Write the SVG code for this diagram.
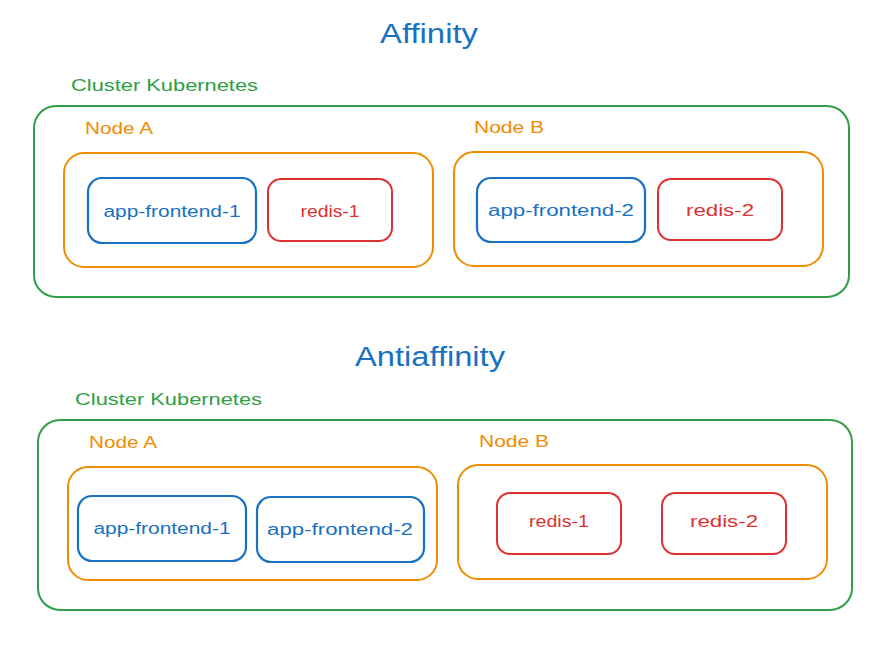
<svg xmlns="http://www.w3.org/2000/svg" width="892" height="665" viewBox="0 0 892 665">
<style>
text{font-family:"Comic Sans MS","Liberation Sans","Open Sans",sans-serif;}
.title{fill:#1971c2;font-size:27px;text-anchor:middle;}
.cl{fill:#2f9e44;font-size:17px;}
.nl{fill:#f08c00;font-size:16px;}
.pt{font-size:16px;text-anchor:middle;}
.cluster{fill:none;stroke:#2f9e44;stroke-width:2;}
.node{fill:none;stroke:#f08c00;stroke-width:2;}
.fe{fill:none;stroke:#1971c2;stroke-width:2.2;}
.rd{fill:none;stroke:#e03131;stroke-width:2;}
.fet{fill:#1971c2;}
.rdt{fill:#e03131;}
</style>
<rect width="892" height="665" fill="#ffffff"/>

<g id="affinity">
<text class="title" x="429" y="43" textLength="98" lengthAdjust="spacingAndGlyphs">Affinity</text>
<g id="aff-cluster">
<text class="cl" x="71" y="91" textLength="187" lengthAdjust="spacingAndGlyphs">Cluster Kubernetes</text>
<rect class="cluster" x="34" y="106" width="815" height="191" rx="22"/>
</g>
<g id="aff-nodeA">
<text class="nl" x="85" y="134" textLength="68" lengthAdjust="spacingAndGlyphs">Node A</text>
<rect class="node" x="64" y="153" width="369" height="114" rx="20"/>
</g>
<g id="aff-nodeB">
<text class="nl" x="474" y="133" textLength="70" lengthAdjust="spacingAndGlyphs">Node B</text>
<rect class="node" x="454" y="152" width="369" height="114" rx="20"/>
</g>
<g id="aff-fe1">
<rect class="fe" x="88" y="178" width="168" height="65" rx="14"/>
<text class="pt fet" x="172" y="217" textLength="137" lengthAdjust="spacingAndGlyphs">app-frontend-1</text>
</g>
<g id="aff-redis1">
<rect class="rd" x="268" y="179" width="124" height="62" rx="13"/>
<text class="pt rdt" x="330" y="217" textLength="59" lengthAdjust="spacingAndGlyphs">redis-1</text>
</g>
<g id="aff-fe2">
<rect class="fe" x="477" y="178" width="168" height="64" rx="14"/>
<text class="pt fet" x="561" y="216" textLength="146" lengthAdjust="spacingAndGlyphs">app-frontend-2</text>
</g>
<g id="aff-redis2">
<rect class="rd" x="658" y="179" width="124" height="61" rx="13"/>
<text class="pt rdt" x="720" y="216" textLength="68" lengthAdjust="spacingAndGlyphs">redis-2</text>
</g>
</g>

<g id="antiaffinity">
<text class="title" x="430" y="366" textLength="150" lengthAdjust="spacingAndGlyphs">Antiaffinity</text>
<g id="anti-cluster">
<text class="cl" x="75" y="405" textLength="187" lengthAdjust="spacingAndGlyphs">Cluster Kubernetes</text>
<rect class="cluster" x="38" y="420" width="814" height="190" rx="22"/>
</g>
<g id="anti-nodeA">
<text class="nl" x="89" y="448" textLength="68" lengthAdjust="spacingAndGlyphs">Node A</text>
<rect class="node" x="68" y="467" width="369" height="113" rx="20"/>
</g>
<g id="anti-nodeB">
<text class="nl" x="479" y="447" textLength="70" lengthAdjust="spacingAndGlyphs">Node B</text>
<rect class="node" x="458" y="465" width="369" height="114" rx="20"/>
</g>
<g id="anti-fe1">
<rect class="fe" x="78" y="496" width="168" height="65" rx="14"/>
<text class="pt fet" x="162" y="534" textLength="137" lengthAdjust="spacingAndGlyphs">app-frontend-1</text>
</g>
<g id="anti-fe2">
<rect class="fe" x="257" y="497" width="167" height="65" rx="14"/>
<text class="pt fet" x="340" y="535" textLength="146" lengthAdjust="spacingAndGlyphs">app-frontend-2</text>
</g>
<g id="anti-redis1">
<rect class="rd" x="497" y="493" width="124" height="61" rx="13"/>
<text class="pt rdt" x="559" y="527" textLength="60" lengthAdjust="spacingAndGlyphs">redis-1</text>
</g>
<g id="anti-redis2">
<rect class="rd" x="662" y="493" width="124" height="61" rx="13"/>
<text class="pt rdt" x="724" y="527" textLength="68" lengthAdjust="spacingAndGlyphs">redis-2</text>
</g>
</g>

<g id="connectors"></g>
</svg>
